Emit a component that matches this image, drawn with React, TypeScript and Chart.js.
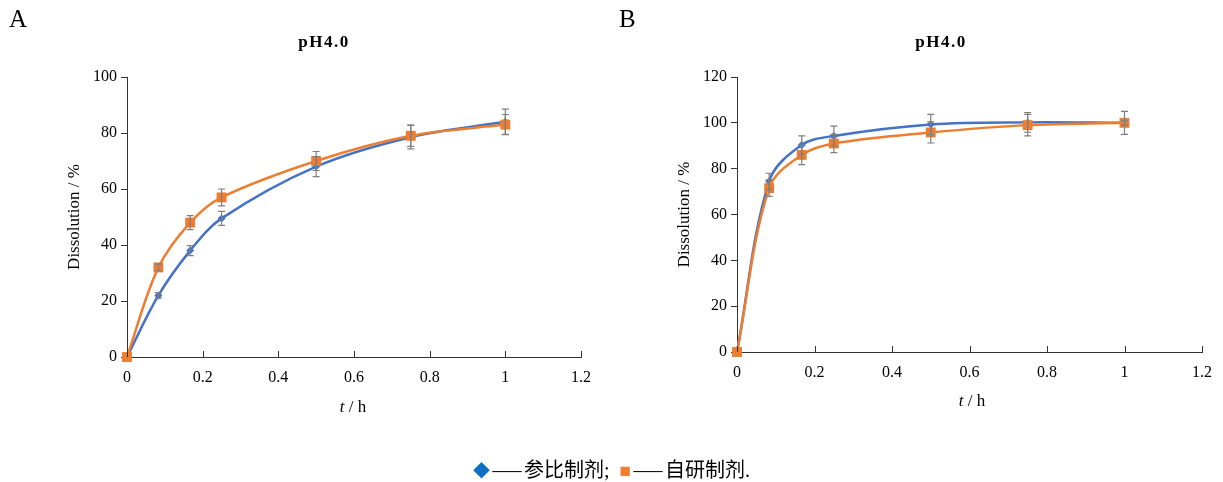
import React, { useEffect, useRef } from "react";
import { Chart, registerables } from "chart.js";

Chart.register(...registerables);

// ---- data ----
const timesH = [0, 0.083, 0.167, 0.25, 0.5, 0.75, 1];

const refA = [0, 22, 38, 49.5, 68, 78.5, 84];
const refAErr = [0, 1, 1.8, 2.5, 3.6, 4.2, 4.5];
const selfA = [0, 32, 48, 57, 70, 79, 83];
const selfAErr = [0, 1.2, 2.5, 3, 3.4, 3.8, 3.6];

const refB = [0, 74.5, 90.3, 94.3, 99.3, 100.2, 100];
const refBErr = [0, 3.5, 4, 4.3, 4.4, 4.3, 1];
const selfB = [0, 71.5, 86, 91, 95.8, 99, 100];
const selfBErr = [0, 3.6, 4.2, 4, 4.6, 4.7, 5];

const xTicks = [0, 0.2, 0.4, 0.6, 0.8, 1, 1.2];
const yTicksA = [0, 20, 40, 60, 80, 100];
const yTicksB = [0, 20, 40, 60, 80, 100, 120];

const panelTitle = "pH4.0";
const yTitle = "Dissolution / %";
const refName = "参比制剂";
const selfName = "自研制剂";

const BLUE = "#4472C4";
const ORANGE = "#ED7D31";
const ERR = "#7F7F7F";
const SERIF = "'Liberation Serif', 'Times New Roman', serif";

const errorBarPlugin = {
  id: "errBars",
  afterDatasetsDraw(chart: any) {
    const ctx = chart.ctx;
    const ys = chart.scales.y;
    const xs = chart.scales.x;
    ctx.save();
    ctx.strokeStyle = ERR;
    ctx.lineWidth = 1.2;
    chart.data.datasets.forEach((ds: any) => {
      const errs: number[] = ds.errors || [];
      ds.data.forEach((p: any, i: number) => {
        const e = errs[i];
        if (!e) return;
        const px = xs.getPixelForValue(p.x);
        const top = ys.getPixelForValue(p.y + e);
        const bot = ys.getPixelForValue(p.y - e);
        ctx.beginPath();
        ctx.moveTo(px, top);
        ctx.lineTo(px, bot);
        ctx.moveTo(px - 3.5, top);
        ctx.lineTo(px + 3.5, top);
        ctx.moveTo(px - 3.5, bot);
        ctx.lineTo(px + 3.5, bot);
        ctx.stroke();
      });
    });
    ctx.restore();
  },
};

const innerXTicksPlugin = {
  id: "innerXTicks",
  afterDraw(chart: any) {
    const ctx = chart.ctx;
    const xs = chart.scales.x;
    const b = chart.chartArea.bottom;
    ctx.save();
    ctx.strokeStyle = "#333";
    ctx.lineWidth = 1;
    xs.ticks.forEach((t: any) => {
      const px = Math.round(xs.getPixelForValue(t.value)) + 0.5;
      ctx.beginPath();
      ctx.moveTo(px, b);
      ctx.lineTo(px, b - 6);
      ctx.stroke();
    });
    ctx.restore();
  },
};

function fmt(v: number) {
  return String(Number(v.toFixed(1)));
}

type PanelProps = {
  width: number;
  height: number;
  refVals: number[];
  refErr: number[];
  selfVals: number[];
  selfErr: number[];
  yTicks: number[];
  padRight: number;
  xAxisH: number;
};

function Panel(props: PanelProps) {
  const ref = useRef<HTMLCanvasElement | null>(null);
  useEffect(() => {
    if (!ref.current) return;
    const yMax = props.yTicks[props.yTicks.length - 1];
    const chart = new Chart(ref.current, {
      type: "scatter",
      data: {
        datasets: [
          {
            label: refName,
            data: timesH.map((x, i) => ({ x, y: props.refVals[i] })),
            errors: props.refErr,
            showLine: true,
            borderColor: BLUE,
            backgroundColor: BLUE,
            borderWidth: 2.5,
            pointStyle: "rectRot",
            pointRadius: 4,
            pointBorderWidth: 0,
            tension: 0.35,
            clip: false,
            order: 2,
          } as any,
          {
            label: selfName,
            data: timesH.map((x, i) => ({ x, y: props.selfVals[i] })),
            errors: props.selfErr,
            showLine: true,
            borderColor: ORANGE,
            backgroundColor: ORANGE,
            borderWidth: 2.5,
            pointStyle: "rect",
            pointRadius: 7,
            pointBorderWidth: 0,
            tension: 0.35,
            clip: false,
            order: 1,
          } as any,
        ],
      },
      options: {
        animation: false,
        responsive: false,
        events: [],
        layout: { padding: { left: 64, top: 77, right: props.padRight, bottom: 0 } },
        plugins: { legend: { display: false }, tooltip: { enabled: false }, title: { display: false } },
        scales: {
          x: {
            type: "linear",
            min: 0,
            max: 1.2,
            afterBuildTicks: (s: any) => {
              s.ticks = xTicks.map((v) => ({ value: v }));
            },
            afterFit: (s: any) => {
              s.height = props.xAxisH;
            },
            ticks: {
              callback: (v: any) => fmt(Number(v)),
              color: "#000",
              font: { family: SERIF, size: 16 },
              padding: 11,
              maxRotation: 0,
              autoSkip: false,
            },
            grid: { drawOnChartArea: false, drawTicks: false, color: "#333" },
            border: { display: true, color: "#333", width: 1 },
          },
          y: {
            type: "linear",
            min: 0,
            max: yMax,
            afterBuildTicks: (s: any) => {
              s.ticks = props.yTicks.map((v) => ({ value: v }));
            },
            afterFit: (s: any) => {
              s.width = 63;
            },
            ticks: {
              color: "#000",
              font: { family: SERIF, size: 16 },
              padding: 4,
            },
            grid: { drawOnChartArea: false, drawTicks: true, tickLength: 6, color: "#333" },
            border: { display: true, color: "#333", width: 1 },
            title: {
              display: true,
              text: yTitle,
              color: "#000",
              font: { family: SERIF, size: 17 },
              padding: { top: 0, bottom: 0 },
            },
          },
        },
      },
      plugins: [errorBarPlugin, innerXTicksPlugin],
    } as any);
    return () => chart.destroy();
  }, []);
  return <canvas ref={ref} width={props.width} height={props.height} style={{ width: props.width, height: props.height, display: "block" }} />;
}

const abs = (left: number, top: number, extra: any = {}) => ({ position: "absolute" as const, left, top, ...extra });

const dashStyle = { display: "inline-block", transform: "scaleX(1.45)", margin: "0 7px" };

export default function App() {
  return (
    <div style={{ position: "fixed", left: 0, top: 0, width: 1223, height: 482, background: "#fff", fontFamily: SERIF, color: "#000" }}>
      <div style={abs(0, 0)}>
        <Panel width={610} height={430} refVals={refA} refErr={refAErr} selfVals={selfA} selfErr={selfAErr} yTicks={yTicksA} padRight={29} xAxisH={73} />
      </div>
      <div style={abs(610, 0)}>
        <Panel width={613} height={430} refVals={refB} refErr={refBErr} selfVals={selfB} selfErr={selfBErr} yTicks={yTicksB} padRight={13} xAxisH={78} />
      </div>

      <div style={abs(9, 5, { fontSize: 25 })}>A</div>
      <div style={abs(619, 5, { fontSize: 25 })}>B</div>

      <div style={abs(224, 32, { width: 200, textAlign: "center", fontSize: 17, fontWeight: "bold", letterSpacing: 1.5 })}>{panelTitle}</div>
      <div style={abs(841, 32, { width: 200, textAlign: "center", fontSize: 17, fontWeight: "bold", letterSpacing: 1.5 })}>{panelTitle}</div>

      <div style={abs(303, 397, { width: 100, textAlign: "center", fontSize: 17 })}><i>t</i> / h</div>
      <div style={abs(922, 391, { width: 100, textAlign: "center", fontSize: 17 })}><i>t</i> / h</div>

      <div style={abs(0, 454, { width: 1223, textAlign: "center", fontSize: 20, fontFamily: "'Liberation Serif', 'Noto Sans CJK SC', serif", whiteSpace: "nowrap" })}>
        <span style={{ color: "#0E6FC6", fontSize: 17 }}>◆</span>
        <span style={dashStyle}>—</span>{refName};
        <span style={{ color: ORANGE, fontSize: 19, marginLeft: 10 }}>■</span>
        <span style={dashStyle}>—</span>{selfName}.
      </div>
    </div>
  );
}
